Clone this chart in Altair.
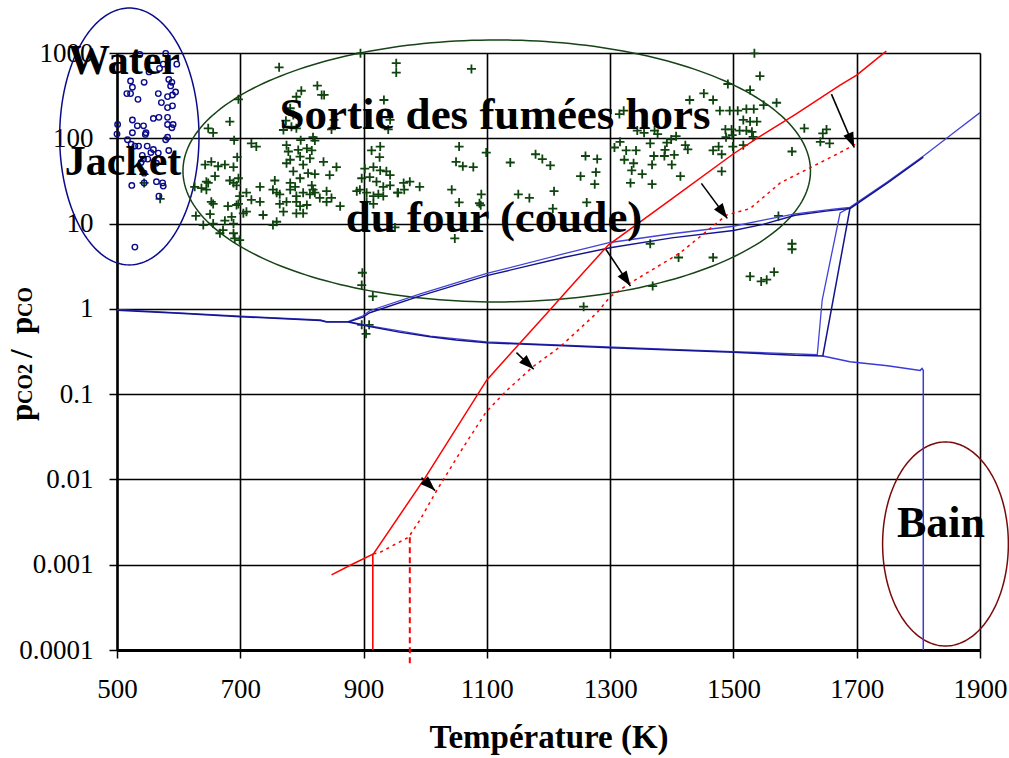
import math
import altair as alt
import numpy as np
import pandas as pd

# ---------------- data ----------------
# Water Jacket samples (open blue circles)
wj_T = [537, 579, 597, 575, 569, 552, 544, 522, 525, 516, 522, 534, 567, 582, 590, 595, 587, 589, 584, 572,
        582, 590, 525, 533, 543, 559, 568, 582, 582, 591, 589, 501, 500, 525, 547, 546, 517, 523, 529, 535,
        549, 559, 555, 567, 579, 582, 584, 541, 543, 550, 539, 564, 544, 524, 544, 564, 574, 575, 568, 529]
wj_Y = [960, 990, 740, 740, 660, 600, 453, 470, 396, 334, 334, 286, 334, 308, 322, 349, 411, 453, 490, 262,
        229, 240, 164, 140, 140, 171, 176, 176, 145, 145, 133, 145, 112, 116, 116, 111, 96, 85, 81, 81,
        81, 74, 68, 67, 96, 103, 72, 63, 57, 57, 52, 51, 39, 28, 30, 31, 30, 27.5, 21, 5.3]

# Sortie des fumées hors du four (green crosses)
sf_T = [763, 895, 953, 953, 825, 799, 791, 832, 836, 933, 697, 683, 648, 656, 781, 786, 774, 783, 852, 848,
        943, 940, 770, 791, 690, 718, 726, 775, 798, 818, 821, 794, 808, 816, 913, 927, 926, 695, 653, 643,
        664, 675, 689, 778, 781, 797, 813, 835, 856, 775, 786, 802, 810, 821, 845, 902, 916, 927, 937, 943,
        659, 645, 648, 683, 689, 697, 694, 756, 781, 789, 797, 816, 818, 821, 732, 753, 759, 764, 781, 791,
        802, 813, 840, 848, 897, 910, 921, 932, 943, 894, 905, 916, 924, 932, 956, 626, 637, 645, 710, 718,
        732, 699, 697, 694, 653, 656, 680, 764, 775, 791, 797, 808, 829, 840, 862, 889, 905, 916, 710, 705,
        737, 770, 791, 802, 628, 651, 686, 675, 689, 640, 656, 753, 759, 667, 672, 689, 691, 699, 898, 897,
        915, 897, 909, 904, 570, 544,
        1055, 1099, 1050, 1061, 1078, 1138, 1179, 1190, 1203, 1260, 1279, 1252, 1277, 1275, 965, 975, 991, 955,
        966, 1043, 1091, 1055, 1088, 1090, 1151, 1169, 1209, 1262, 1207, 951, 1048, 1257, 1075,
        1534, 1543, 1491, 1527, 1452, 1467, 1429, 1570, 1549, 1322, 1315, 1478, 1494, 1507, 1521, 1533, 1516,
        1527, 1538, 1344, 1355, 1372, 1377, 1487, 1497, 1510, 1521, 1530, 1532, 1498, 1488, 1399, 1407, 1392,
        1316, 1307, 1326, 1342, 1365, 1389, 1404, 1422, 1426, 1467, 1476, 1481, 1499, 1516, 1323, 1338, 1371,
        1388, 1400, 1368, 1335, 1352, 1414, 1481, 1333, 1368, 1595, 1615, 1645, 1651, 1641, 1656, 1573, 1365,
        1411, 1467, 1595, 1595, 1527, 1545, 1554, 1566, 1369]
sf_Y = [680, 990, 760, 590, 414, 361, 307, 322, 322, 281, 286, 157, 131, 116, 225, 188, 161, 137, 164, 127,
        164, 127, 125, 131, 95, 87, 80, 83, 95, 103, 94, 73, 76, 72, 72, 80, 60, 60, 53, 49,
        47, 49, 46, 70, 56, 61, 58, 53, 46, 51, 41, 49, 39, 38, 37, 44, 46, 42, 41, 37,
        36, 31, 30, 32, 30, 34, 28, 32, 30, 27, 34, 28, 25, 23, 27, 25, 23, 22, 25, 21,
        23, 22, 24, 20, 34, 35, 31, 27, 28, 25, 23, 21, 22, 21, 23, 27, 26, 25, 23, 19,
        18, 21, 17, 16.5, 18, 17, 16, 17, 18, 18, 16, 16.5, 20, 18, 16, 24, 18, 17, 13.8, 13.2,
        12.6, 13.8, 13.2, 13.2, 12.3, 12.9, 12, 10.8, 10, 9.6, 10, 9.6, 10.5, 7.7, 8.4, 7.7, 6.7, 6.4, 2.65, 1.9,
        1.4, 0.65, 0.65, 0.51, 19.5, 30,
        80, 68, 53, 47, 46, 52, 65, 57, 48, 62, 57, 36, 40, 29, 30, 31, 27, 23,
        25, 25, 22, 17.7, 17.3, 16.4, 22, 20, 24, 17.7, 15, 9.0, 6.7, 1.06, 650,
        990, 537, 433, 368, 336, 281, 281, 261, 245, 211, 192, 211, 211, 211, 220, 220, 164,
        157, 157, 123, 116, 123, 112, 127, 127, 123, 123, 119, 104, 109, 103, 97, 106, 89,
        91, 78, 72, 72, 87, 73, 64, 83, 74, 72, 80, 65, 80, 83, 56, 51, 62,
        62, 49, 49, 42, 38, 36, 41, 30, 29, 70, 131, 114, 127, 91, 87, 12.3, 5.8,
        4.0, 4.0, 5.8, 5.0, 2.4, 2.1, 2.2, 2.7, 1.85]

# Blue equilibrium curves (drawn twice: dark and light)
nav_low_T = [500, 600, 700, 780, 830, 840, 875, 910, 960, 1008, 1050, 1100, 1224, 1300, 1400, 1500, 1600, 1645,
             1689, 1750, 1808]
nav_low_Y = [0.96, 0.89, 0.81, 0.76, 0.73, 0.70, 0.70, 0.62, 0.53, 0.47, 0.43, 0.40, 0.37, 0.35, 0.33, 0.31,
             0.285, 0.28, 15, 30, 60]
nav_up_T = [875, 899, 910, 992, 1100, 1224, 1300, 1400, 1500, 1548, 1600, 1650, 1689]
nav_up_Y = [0.70, 0.80, 0.90, 1.42, 2.45, 4.0, 5.2, 6.8, 8.3, 9.8, 12.5, 14, 15]
lb_low_T = [500, 700, 830, 840, 875, 910, 1008, 1100, 1224, 1400, 1500, 1636, 1644, 1673, 1689]
lb_low_Y = [0.98, 0.82, 0.74, 0.71, 0.71, 0.63, 0.48, 0.41, 0.375, 0.335, 0.315, 0.29, 1.27, 13.3, 15.5]
lb_up_T = [875, 899, 910, 992, 1100, 1224, 1300, 1400, 1500, 1548, 1600, 1662, 1689, 1750, 1811, 1860, 1900]
lb_up_Y = [0.71, 0.83, 0.95, 1.5, 2.6, 4.4, 6.0, 7.6, 9.3, 11, 13, 14.8, 15.5, 31, 64, 120, 200]
lb_tail_T = [1645, 1689, 1750, 1803, 1806, 1808, 1808]
lb_tail_Y = [0.28, 0.24, 0.215, 0.19, 0.20, 0.19, 0.0001]

# Red curves
red_T = [848, 880, 916, 1000, 1100, 1200, 1246, 1297, 1400, 1499, 1538, 1600, 1673, 1700, 1748]
red_Y = [0.00076, 0.001, 0.00134, 0.0105, 0.147, 0.93, 2.2, 5.6, 19.5, 65, 100, 190, 420, 550, 1050]
red_v_T = [915, 915]
red_v_Y = [0.00134, 0.0001]
dot_T = [916, 927, 973, 992, 1019, 1062, 1099, 1132, 1175, 1219, 1278, 1300, 1332, 1413, 1489, 1527, 1576,
         1673, 1700]
dot_Y = [0.00134, 0.0014, 0.0021, 0.0034, 0.0075, 0.024, 0.062, 0.11, 0.21, 0.36, 0.89, 1.39, 2.0, 4.5, 12.6,
         15, 30, 68, 87]
dash_T = [975, 975]
dash_Y = [0.0021, 0.000068]

# Arrows (start -> end)
arr_T0 = [994, 1148, 1293, 1448, 1659]
arr_Y0 = [0.0105, 0.307, 5.0, 29.6, 330]
arr_T1 = [1016, 1176, 1333, 1490, 1696]
arr_Y1 = [0.0074, 0.196, 1.85, 11.5, 78]

# Annotation ellipses: centre (K, value), half width (K), half height (decades)
ell_name = ["wj", "sf", "bain"]
ell_cT = [520, 1116, 1844]
ell_cY = [105, 41.4, 0.00175]
ell_rT = [113, 509, 102]
ell_rDec = [1.506, 1.536, 1.196]
ell_color = ["#0a0a8a", "#164416", "#7a0a0a"]

x_ticks = [500, 700, 900, 1100, 1300, 1500, 1700, 1900]
y_ticks = [0.0001, 0.001, 0.01, 0.1, 1, 10, 100, 1000]

# ---------------- chart ----------------
W, H = 863, 597
FONT = "Liberation Serif"

X = alt.X("T:Q", scale=alt.Scale(domain=[500, 1900], nice=False, zero=False),
          axis=alt.Axis(values=x_ticks, format="d", grid=True, title="Température (K)", titleFont=FONT,
                        titleFontSize=33, titleFontWeight="bold", titleColor="black",
                        titleY=97, titleBaseline="alphabetic",
                        labelFont=FONT, labelFontSize=27, labelColor="black", labelBaseline="alphabetic",
                        labelPadding=39, tickSize=8, tickWidth=1.5, tickColor="black",
                        domainColor="black", domainWidth=3, gridColor="black", gridWidth=1.6,
                        labelOverlap=False, labelFlush=False))
Y = alt.Y("Y:Q", scale=alt.Scale(type="log", domain=[0.0001, 1000], nice=False),
          axis=alt.Axis(values=y_ticks, format="~g", grid=True, title=None,
                        labelFont=FONT, labelFontSize=27, labelColor="black",
                        labelPadding=16, tickSize=8, tickWidth=1.5, tickColor="black",
                        domainColor="black", domainWidth=2.5, gridColor="black", gridWidth=1.6,
                        labelOverlap=False, labelFlush=False))


def path_df(T, Yv, name):
    return pd.DataFrame({"T": T, "Y": Yv, "i": list(range(len(T))), "s": name})


def line(df, color, width=1.4, dash=None):
    kw = dict(color=color, strokeWidth=width, clip=False)
    if dash is not None:
        kw["strokeDash"] = dash
    return alt.Chart(df).mark_line(**kw).encode(x=X, y=Y, order="i:Q", detail="s:N")


layers = []

# ellipses
t = np.linspace(0, 2 * np.pi, 241)
for n, cT, cY, rT, rD, col in zip(ell_name, ell_cT, ell_cY, ell_rT, ell_rDec, ell_color):
    df = pd.DataFrame({"T": cT + rT * np.cos(t), "Y": 10 ** (np.log10(cY) + rD * np.sin(t)),
                       "i": np.arange(len(t)), "s": n})
    layers.append(line(df, col, 1.5))

# scatter
sf = pd.DataFrame({"T": sf_T, "Y": sf_Y})
layers.append(alt.Chart(sf).mark_point(shape="M-1,0L1,0M0,-1L0,1", size=81, filled=False,
                                       strokeWidth=1.8, color="#0f440f", opacity=1, clip=False)
              .encode(x=X, y=Y))
wj = pd.DataFrame({"T": wj_T, "Y": wj_Y})
layers.append(alt.Chart(wj).mark_point(shape="circle", size=30, filled=False, strokeWidth=1.4,
                                       color="#0a0a8a", opacity=1, clip=False)
              .encode(x=X, y=Y))

# blue curves
layers.append(line(path_df(lb_low_T, lb_low_Y, "lb_low"), "#4343d6", 1.3))
layers.append(line(path_df(lb_up_T, lb_up_Y, "lb_up"), "#4343d6", 1.3))
layers.append(line(path_df(lb_tail_T, lb_tail_Y, "lb_tail"), "#3a3ad8", 1.5))
layers.append(line(path_df(nav_low_T, nav_low_Y, "nav_low"), "#14148c", 1.5))
layers.append(line(path_df(nav_up_T, nav_up_Y, "nav_up"), "#14148c", 1.4))

# red curves
layers.append(line(path_df(red_T, red_Y, "red"), "#ff0000", 1.5))
layers.append(line(path_df(red_v_T, red_v_Y, "red_v"), "#ff0000", 1.6))
layers.append(line(path_df(dot_T, dot_Y, "dot"), "#ff0000", 1.5, [3, 4]))
layers.append(line(path_df(dash_T, dash_Y, "dash"), "#ff0000", 2, [6, 4]))

# arrows
kx, ky = W / 1400.0, H / 7.0
angles = []
for a, b, c, d in zip(arr_T0, arr_Y0, arr_T1, arr_Y1):
    dx = (c - a) * kx
    dy = -(math.log10(d) - math.log10(b)) * ky
    angles.append(math.degrees(math.atan2(dx, -dy)) % 360)
arr = pd.DataFrame({"T": arr_T0, "Y": arr_Y0, "T1": arr_T1, "Y1": arr_Y1, "ang": angles})
layers.append(alt.Chart(arr).mark_rule(color="black", strokeWidth=1.6, clip=False)
              .encode(x=X, y=Y, x2="T1:Q", y2="Y1:Q"))
heads = pd.DataFrame({"T": arr_T1, "Y": arr_Y1, "ang": angles})
layers.append(alt.Chart(heads).mark_point(shape="M0,0L-0.36,1L0.36,1Z", size=900, filled=True,
                                          color="black", opacity=1, clip=False)
              .encode(x=X, y=Y, angle=alt.Angle("ang:Q", scale=None)))

one = pd.DataFrame({"a": [0]})


def label(txt, px, py, size, align="center", angle=0, weight="bold"):
    kw = dict(text=txt, font=FONT, fontSize=size, fontWeight=weight, color="black",
              align=align, baseline="alphabetic")
    if angle:
        kw["angle"] = angle
    return alt.Chart(one).mark_text(**kw).encode(x=alt.value(px - 117), y=alt.value(py - 53))


layers += [
    label("Water", 124, 74, 42),
    label("Jacket", 123, 175, 42),
    label("Sortie des fumées hors", 495, 129, 45),
    label("du four (coude)", 494, 232, 45),
    label("Bain", 941, 537, 44),
    # y axis title  p_CO2 / p_CO
    label("p", 32, 421, 31, align="left", angle=270),
    label("CO2", 32, 404, 20, align="left", angle=270),
    label("/", 32, 358, 31, align="left", angle=270),
    label("p", 32, 334, 31, align="left", angle=270),
    label("CO", 32, 317, 20, align="left", angle=270),
]

chart = alt.layer(*layers).properties(
    width=W, height=H,
    autosize=alt.AutoSizeParams(type="none"),
    padding={"left": 117, "top": 53, "right": 29, "bottom": 108},
    background="white",
).configure_view(stroke=None)

chart.save("out.html", embed_options={"renderer": "svg", "actions": False})
